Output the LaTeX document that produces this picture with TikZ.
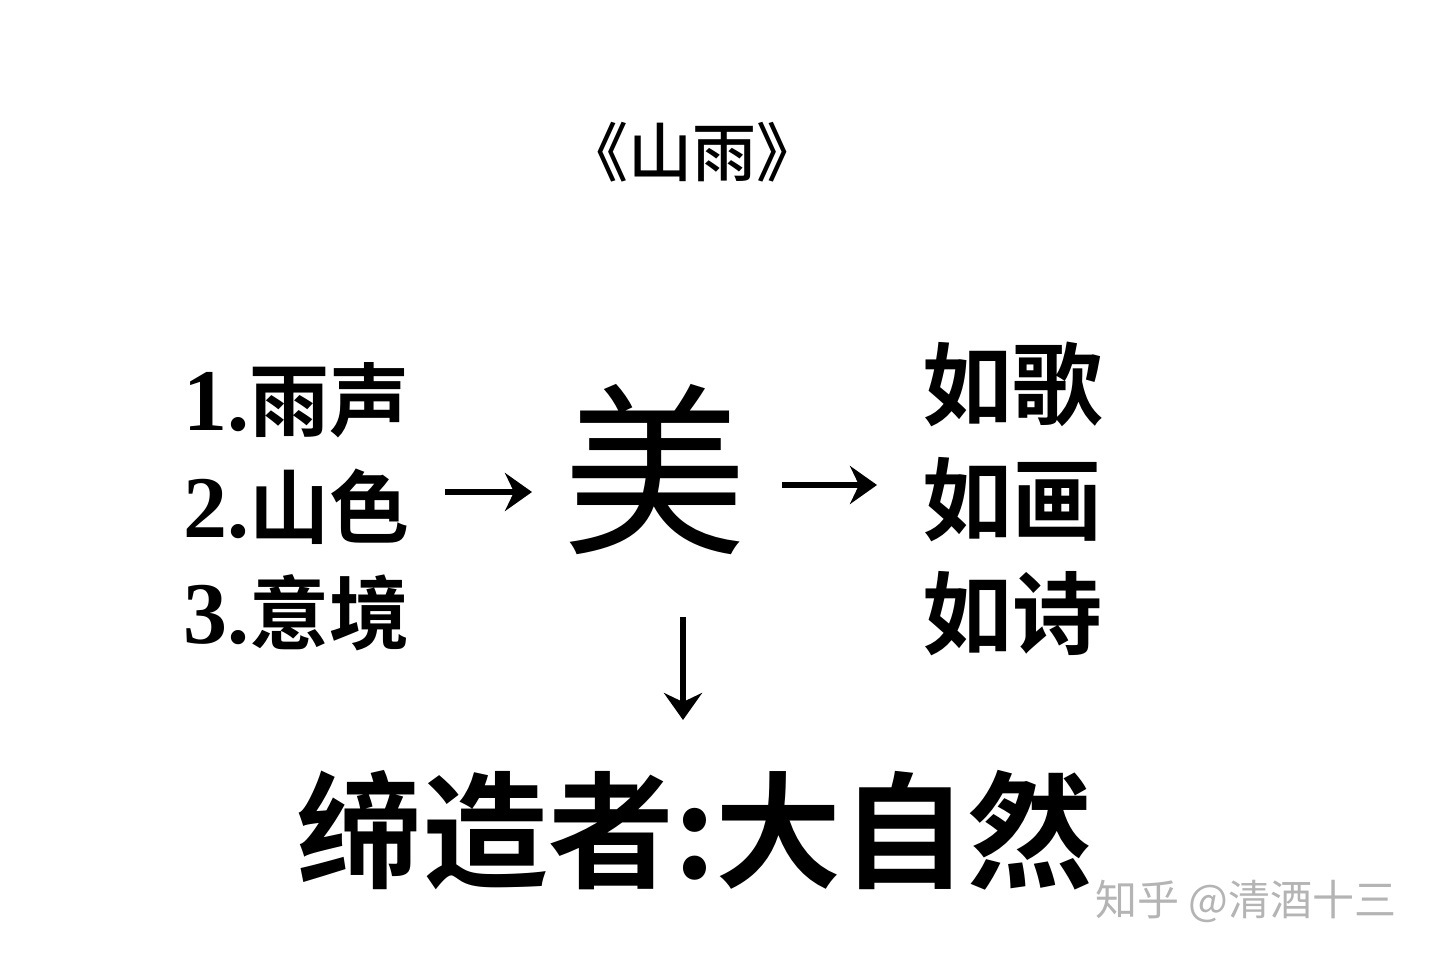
\documentclass[tikz,border=0pt]{standalone}
\usepackage{fontspec}
\newfontfamily\cjk{Noto Sans CJK SC}
\newfontfamily\cjkmed{Noto Sans CJK SC Medium}
\newfontfamily\cjkbold{Noto Sans CJK SC Bold}
\newfontfamily\numf{Liberation Serif}
\usetikzlibrary{arrows.meta}
\definecolor{wm}{HTML}{B4B4B4}
\tikzset{
  txt/.style={inner sep=0pt, anchor=center},
  arr/.style={line width=6.5pt, -{Stealth[length=27pt,width=38pt,inset=9pt]}},
}
\begin{document}
\begin{tikzpicture}[x=1pt,y=-1pt]
\useasboundingbox[fill=white] (0,0) rectangle (1440,960);
% title
\node[txt, font=\cjkmed\fontsize{64}{68}\selectfont] (title) at (692,152) {《山雨》};
% left list
\node[txt, anchor=west, font=\cjkbold\fontsize{80}{84}\selectfont] (l1) at (183,400) {{\numf\bfseries\fontsize{88}{88}\selectfont 1.}雨声};
\node[txt, anchor=west, font=\cjkbold\fontsize{80}{84}\selectfont] (l2) at (183,507) {{\numf\bfseries\fontsize{88}{88}\selectfont 2.}山色};
\node[txt, anchor=west, font=\cjkbold\fontsize{80}{84}\selectfont] (l3) at (183,613) {{\numf\bfseries\fontsize{88}{88}\selectfont 3.}意境};
% center
\node[txt, font=\cjk\fontsize{185}{190}\selectfont] (mei) at (655,470) {美};
% right list
\node[txt, anchor=west, font=\cjkbold\fontsize{90}{94}\selectfont] (r1) at (922,384) {如歌};
\node[txt, anchor=west, font=\cjkbold\fontsize{90}{94}\selectfont] (r2) at (922,500) {如画};
\node[txt, anchor=west, font=\cjkbold\fontsize{90}{94}\selectfont] (r3) at (922,614) {如诗};
% bottom
\node[txt, font=\cjkbold\fontsize{126}{130}\selectfont] (maker) at (695,830) {缔造者:大自然};
% watermark
\node[txt, anchor=west, text=wm, font=\cjk\fontsize{42}{46}\selectfont] (wmk) at (1095,901) {知乎 @清酒十三};
% arrows
\coordinate (a1s) at (445,492);
\coordinate (a1e) at (532,492);
\coordinate (a2s) at (782,485);
\coordinate (a2e) at (877,485);
\coordinate (a3s) at (683,617);
\coordinate (a3e) at (683,720);
\draw[arr] (a1s) -- (a1e);
\draw[arr] (a2s) -- (a2e);
\draw[arr] (a3s) -- (a3e);
\end{tikzpicture}
\end{document}
